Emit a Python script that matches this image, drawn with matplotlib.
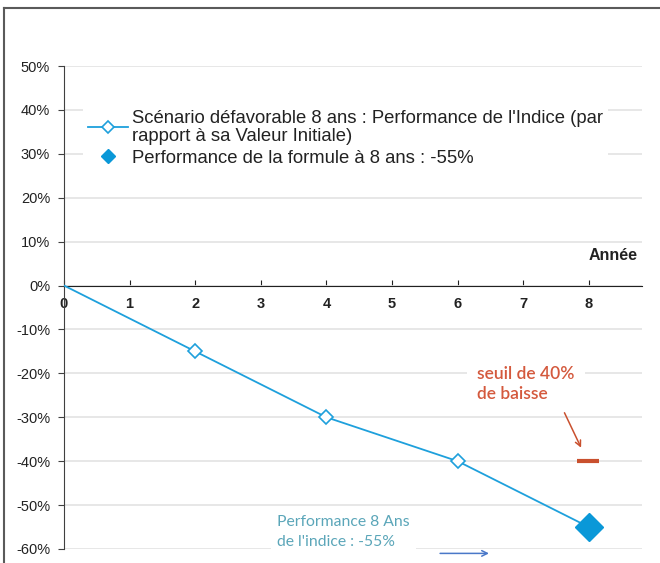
import matplotlib
matplotlib.use("Agg")
import matplotlib.pyplot as plt
from matplotlib.lines import Line2D
from matplotlib.ticker import FuncFormatter

plt.rcParams['font.family'] = ['Liberation Sans', 'DejaVu Sans']

# données
annees = [0, 2, 4, 6, 8]
perf_indice = [0, -15, -30, -40, -55]
annee_finale = [8]
perf_formule = [-55]
seuil_x = [7.82, 8.16]
seuil_y = [-40, -40]
yticks = list(range(-60, 51, 10))
xticks = list(range(0, 9))

bleu = '#1ea0dc'
bleu_fonce = '#0a98d8'
rouge = '#c9502e'

fig = plt.figure(figsize=(6.6, 5.63), dpi=100)
ax = fig.add_axes([64 / 660, 1 - 549 / 563, 578 / 660, 483 / 563])

# courbe de l'indice, losanges creux sauf au départ et à 8 ans
ax.plot(annees, perf_indice, color=bleu, lw=1.3, marker='D', ms=7.5,
        mfc='white', mec=bleu, mew=1.2, markevery=[1, 2, 3], zorder=3)
ax.plot(annee_finale, perf_formule, ls='none', marker='D', ms=14, color=bleu_fonce,
        zorder=4, clip_on=False)
ax.plot(seuil_x, seuil_y, color=rouge, lw=3, solid_capstyle='butt', zorder=3)

ax.set_xlim(0, 8.81)
ax.set_ylim(-60, 50)
ax.set_yticks(yticks)
ax.yaxis.set_major_formatter(FuncFormatter(lambda v, p: f'{v:.0f}%'))
ax.set_xticks(xticks)
ax.grid(axis='y', color='#e3e3e3', lw=1.2)
ax.set_axisbelow(True)
for s in ['top', 'right']:
    ax.spines[s].set_visible(False)
ax.spines['left'].set_color('#404040')
ax.spines['bottom'].set_position(('data', 0))
ax.spines['bottom'].set_color('#202020')
ax.tick_params(axis='y', direction='out', length=4, color='#404040',
               labelsize=10.5, pad=6, labelcolor='#222222')
ax.tick_params(axis='x', direction='in', length=4, color='#202020',
               labelsize=10.5, pad=8, labelcolor='#222222')
for t in ax.get_xticklabels():
    t.set_fontweight('bold')

ax.text(8.75, 6.8, 'Année', ha='right', va='center', fontsize=11.5,
        fontweight='bold', color='#222222')

# légende
h1 = Line2D([], [], color=bleu, lw=1.3, marker='D', ms=6, mfc='white', mec=bleu, mew=1.2)
h2 = Line2D([], [], ls='none', marker='D', ms=7, color=bleu_fonce)
leg = ax.legend([h1, h2],
                ["Scénario défavorable 8 ans : Performance de l'Indice (par\nrapport à sa Valeur Initiale)",
                 'Performance de la formule à 8 ans : -55%'],
                loc='upper left', bbox_to_anchor=(0.0165, 0.94), fontsize=13.3,
                frameon=True, fancybox=False, edgecolor='none', facecolor='white',
                framealpha=1, handlelength=2.15, handletextpad=0.2,
                labelspacing=0.25, borderpad=0.3)
for t in leg.get_texts():
    t.set_color('#222222')
    t.set_linespacing(1.1)

# annotations
ax.text(6.3, -22.5, 'seuil de 40%\nde baisse', color='#d4593d', fontsize=12.5,
        family='Lato', fontweight='semibold', ha='left', va='center',
        linespacing=1.3,
        bbox=dict(boxstyle='square,pad=0.6', fc='white', ec='none'), zorder=2)
ax.annotate('', xy=(7.9, -37.5), xytext=(7.61, -28.4),
            arrowprops=dict(arrowstyle='->', color=rouge, lw=1.1))
ax.text(3.25, -56.2, "Performance 8 Ans\nde l'indice : -55%", color='#5ba6b9',
        fontsize=11.3, family='Lato', ha='left', va='center', linespacing=1.55,
        bbox=dict(boxstyle='square,pad=0.4', fc='white', ec='none'), zorder=2)
ax.annotate('', xy=(6.52, -61), xytext=(5.69, -61),
            arrowprops=dict(arrowstyle='->', color='#4a78c8', lw=1.1),
            annotation_clip=False)

# cadre
fig.add_artist(Line2D([4 / 660, 4 / 660], [0, 1 - 8 / 563], color='#5a5a5a', lw=1.5))
fig.add_artist(Line2D([4 / 660, 1], [1 - 8 / 563, 1 - 8 / 563], color='#5a5a5a', lw=1.5))

fig.savefig('out.png', dpi=100)
